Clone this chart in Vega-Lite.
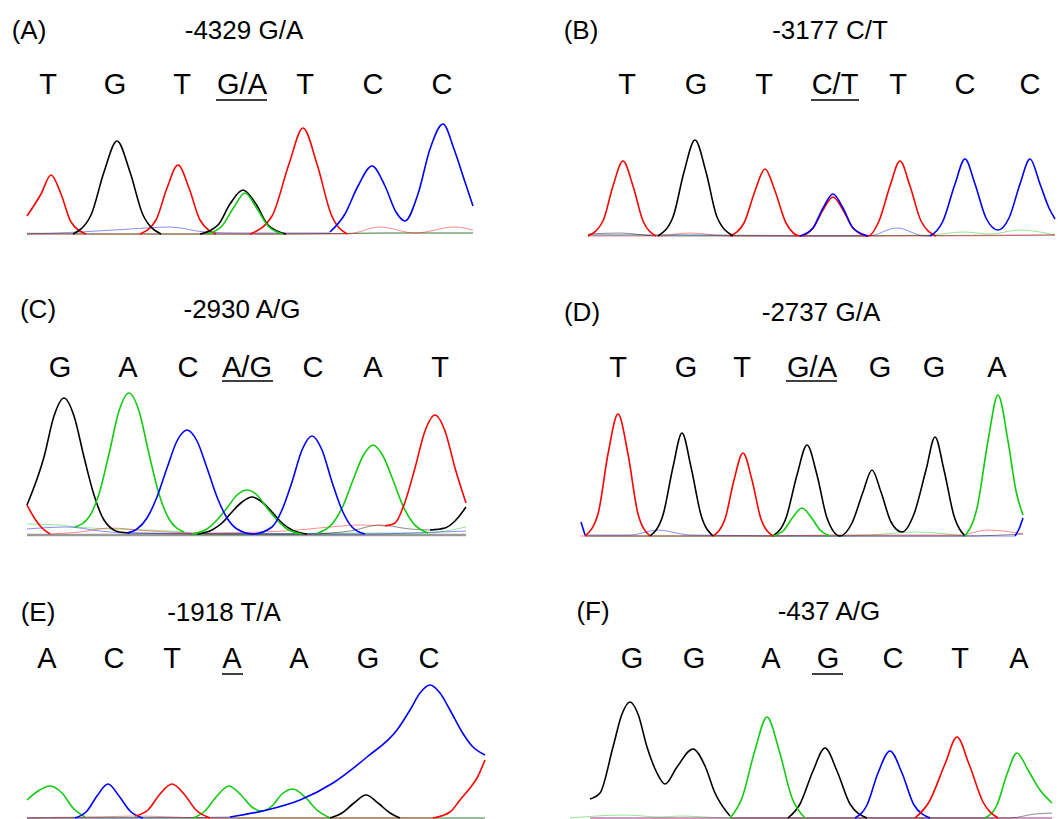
{
"$schema": "https://vega.github.io/schema/vega-lite/v6.json",
"padding": 0,
"spacing": 0,
"background": "white",
"config": {"view": {"stroke": null}, "concat": {"spacing": 0}, "axis": {"disable": true}, "scale": {"zero": false}, "text": {"font": "Liberation Sans", "color": "#000000"}},
"datasets": {
"tr": [
{"p":"A","c":"T","g":1,"s":27,"v":18},{"p":"A","c":"T","g":1,"s":41,"v":40},{"p":"A","c":"T","g":1,"s":51,"v":59},{"p":"A","c":"T","g":1,"s":61,"v":40},{"p":"A","c":"T","g":1,"s":71,"v":12},{"p":"A","c":"T","g":1,"s":86,"v":0},
{"p":"A","c":"T","g":2,"s":140,"v":0},{"p":"A","c":"T","g":2,"s":156,"v":14},{"p":"A","c":"T","g":2,"s":167,"v":46},{"p":"A","c":"T","g":2,"s":178,"v":69},{"p":"A","c":"T","g":2,"s":189,"v":46},{"p":"A","c":"T","g":2,"s":200,"v":14},{"p":"A","c":"T","g":2,"s":216,"v":0},
{"p":"A","c":"T","g":3,"s":250,"v":0},{"p":"A","c":"T","g":3,"s":272,"v":18},{"p":"A","c":"T","g":3,"s":289,"v":70},{"p":"A","c":"T","g":3,"s":303,"v":106},{"p":"A","c":"T","g":3,"s":317,"v":70},{"p":"A","c":"T","g":3,"s":331,"v":20},{"p":"A","c":"T","g":3,"s":347,"v":0},
{"p":"A","c":"G","g":1,"s":73,"v":0},{"p":"A","c":"G","g":1,"s":91,"v":19},{"p":"A","c":"G","g":1,"s":104,"v":62},{"p":"A","c":"G","g":1,"s":117,"v":93},{"p":"A","c":"G","g":1,"s":130,"v":62},{"p":"A","c":"G","g":1,"s":143,"v":19},{"p":"A","c":"G","g":1,"s":161,"v":0},
{"p":"A","c":"G","g":2,"s":200,"v":0},{"p":"A","c":"G","g":2,"s":218,"v":9},{"p":"A","c":"G","g":2,"s":230,"v":30},{"p":"A","c":"G","g":2,"s":243,"v":44},{"p":"A","c":"G","g":2,"s":256,"v":30},{"p":"A","c":"G","g":2,"s":268,"v":9},{"p":"A","c":"G","g":2,"s":286,"v":0},
{"p":"A","c":"A","g":1,"s":207,"v":0},{"p":"A","c":"A","g":1,"s":222,"v":8},{"p":"A","c":"A","g":1,"s":234,"v":27},{"p":"A","c":"A","g":1,"s":245,"v":41},{"p":"A","c":"A","g":1,"s":256,"v":27},{"p":"A","c":"A","g":1,"s":268,"v":8},{"p":"A","c":"A","g":1,"s":283,"v":0},
{"p":"A","c":"C","g":1,"s":330,"v":2},{"p":"A","c":"C","g":1,"s":345,"v":20},{"p":"A","c":"C","g":1,"s":358,"v":48},{"p":"A","c":"C","g":1,"s":372,"v":68},{"p":"A","c":"C","g":1,"s":385,"v":48},{"p":"A","c":"C","g":1,"s":396,"v":22},{"p":"A","c":"C","g":1,"s":405,"v":13},{"p":"A","c":"C","g":1,"s":418,"v":40},{"p":"A","c":"C","g":1,"s":430,"v":85},{"p":"A","c":"C","g":1,"s":443,"v":110},{"p":"A","c":"C","g":1,"s":454,"v":85},{"p":"A","c":"C","g":1,"s":464,"v":55},{"p":"A","c":"C","g":1,"s":473,"v":28},

{"p":"B","c":"T","g":1,"s":58,"v":0},{"p":"B","c":"T","g":1,"s":73,"v":15},{"p":"B","c":"T","g":1,"s":83,"v":50},{"p":"B","c":"T","g":1,"s":93,"v":75},{"p":"B","c":"T","g":1,"s":103,"v":50},{"p":"B","c":"T","g":1,"s":113,"v":15},{"p":"B","c":"T","g":1,"s":126,"v":0},
{"p":"B","c":"T","g":2,"s":200,"v":0},{"p":"B","c":"T","g":2,"s":214,"v":13},{"p":"B","c":"T","g":2,"s":225,"v":45},{"p":"B","c":"T","g":2,"s":235,"v":67},{"p":"B","c":"T","g":2,"s":245,"v":45},{"p":"B","c":"T","g":2,"s":256,"v":13},{"p":"B","c":"T","g":2,"s":270,"v":0},{"p":"B","c":"T","g":2,"s":283,"v":8},{"p":"B","c":"T","g":2,"s":293,"v":26},{"p":"B","c":"T","g":2,"s":303,"v":39},{"p":"B","c":"T","g":2,"s":313,"v":26},{"p":"B","c":"T","g":2,"s":323,"v":8},{"p":"B","c":"T","g":2,"s":338,"v":0},{"p":"B","c":"T","g":2,"s":349,"v":15},{"p":"B","c":"T","g":2,"s":360,"v":50},{"p":"B","c":"T","g":2,"s":370,"v":75},{"p":"B","c":"T","g":2,"s":380,"v":50},{"p":"B","c":"T","g":2,"s":391,"v":15},{"p":"B","c":"T","g":2,"s":406,"v":0},
{"p":"B","c":"G","g":1,"s":128,"v":0},{"p":"B","c":"G","g":1,"s":143,"v":19},{"p":"B","c":"G","g":1,"s":154,"v":64},{"p":"B","c":"G","g":1,"s":165,"v":96},{"p":"B","c":"G","g":1,"s":176,"v":64},{"p":"B","c":"G","g":1,"s":187,"v":19},{"p":"B","c":"G","g":1,"s":203,"v":0},
{"p":"B","c":"C","g":1,"s":270,"v":0},{"p":"B","c":"C","g":1,"s":283,"v":8},{"p":"B","c":"C","g":1,"s":293,"v":28},{"p":"B","c":"C","g":1,"s":303,"v":42},{"p":"B","c":"C","g":1,"s":313,"v":28},{"p":"B","c":"C","g":1,"s":323,"v":8},{"p":"B","c":"C","g":1,"s":338,"v":0},
{"p":"B","c":"C","g":2,"s":400,"v":0},{"p":"B","c":"C","g":2,"s":413,"v":15},{"p":"B","c":"C","g":2,"s":425,"v":52},{"p":"B","c":"C","g":2,"s":435,"v":77},{"p":"B","c":"C","g":2,"s":445,"v":52},{"p":"B","c":"C","g":2,"s":456,"v":18},{"p":"B","c":"C","g":2,"s":468,"v":6},{"p":"B","c":"C","g":2,"s":479,"v":18},{"p":"B","c":"C","g":2,"s":490,"v":52},{"p":"B","c":"C","g":2,"s":500,"v":77},{"p":"B","c":"C","g":2,"s":510,"v":52},{"p":"B","c":"C","g":2,"s":519,"v":28},{"p":"B","c":"C","g":2,"s":525,"v":17},

{"p":"C","c":"G","g":1,"s":27,"v":30},{"p":"C","c":"G","g":1,"s":44,"v":78},{"p":"C","c":"G","g":1,"s":54,"v":119},{"p":"C","c":"G","g":1,"s":64,"v":137},{"p":"C","c":"G","g":1,"s":74,"v":119},{"p":"C","c":"G","g":1,"s":84,"v":78},{"p":"C","c":"G","g":1,"s":94,"v":40},{"p":"C","c":"G","g":1,"s":104,"v":15},{"p":"C","c":"G","g":1,"s":119,"v":3},{"p":"C","c":"G","g":1,"s":130,"v":2},
{"p":"C","c":"G","g":2,"s":197,"v":1},{"p":"C","c":"G","g":2,"s":212,"v":5},{"p":"C","c":"G","g":2,"s":222,"v":12},{"p":"C","c":"G","g":2,"s":232,"v":23},{"p":"C","c":"G","g":2,"s":242,"v":33},{"p":"C","c":"G","g":2,"s":252,"v":38},{"p":"C","c":"G","g":2,"s":262,"v":33},{"p":"C","c":"G","g":2,"s":272,"v":23},{"p":"C","c":"G","g":2,"s":282,"v":12},{"p":"C","c":"G","g":2,"s":292,"v":5},{"p":"C","c":"G","g":2,"s":307,"v":1},
{"p":"C","c":"G","g":3,"s":430,"v":5},{"p":"C","c":"G","g":3,"s":445,"v":7},{"p":"C","c":"G","g":3,"s":455,"v":14},{"p":"C","c":"G","g":3,"s":466,"v":28},
{"p":"C","c":"A","g":1,"s":75,"v":8},{"p":"C","c":"A","g":1,"s":89,"v":18},{"p":"C","c":"A","g":1,"s":99,"v":41},{"p":"C","c":"A","g":1,"s":109,"v":81},{"p":"C","c":"A","g":1,"s":119,"v":124},{"p":"C","c":"A","g":1,"s":129,"v":142},{"p":"C","c":"A","g":1,"s":139,"v":124},{"p":"C","c":"A","g":1,"s":149,"v":81},{"p":"C","c":"A","g":1,"s":159,"v":41},{"p":"C","c":"A","g":1,"s":169,"v":16},{"p":"C","c":"A","g":1,"s":184,"v":3},
{"p":"C","c":"A","g":2,"s":192,"v":1},{"p":"C","c":"A","g":2,"s":207,"v":6},{"p":"C","c":"A","g":2,"s":217,"v":15},{"p":"C","c":"A","g":2,"s":227,"v":27},{"p":"C","c":"A","g":2,"s":237,"v":40},{"p":"C","c":"A","g":2,"s":247,"v":45},{"p":"C","c":"A","g":2,"s":257,"v":40},{"p":"C","c":"A","g":2,"s":267,"v":27},{"p":"C","c":"A","g":2,"s":277,"v":15},{"p":"C","c":"A","g":2,"s":287,"v":6},{"p":"C","c":"A","g":2,"s":302,"v":1},
{"p":"C","c":"A","g":3,"s":318,"v":2},{"p":"C","c":"A","g":3,"s":333,"v":12},{"p":"C","c":"A","g":3,"s":343,"v":29},{"p":"C","c":"A","g":3,"s":353,"v":55},{"p":"C","c":"A","g":3,"s":363,"v":79},{"p":"C","c":"A","g":3,"s":373,"v":90},{"p":"C","c":"A","g":3,"s":383,"v":79},{"p":"C","c":"A","g":3,"s":393,"v":55},{"p":"C","c":"A","g":3,"s":403,"v":29},{"p":"C","c":"A","g":3,"s":413,"v":12},{"p":"C","c":"A","g":3,"s":428,"v":2},
{"p":"C","c":"C","g":1,"s":127,"v":2},{"p":"C","c":"C","g":1,"s":137,"v":6},{"p":"C","c":"C","g":1,"s":147,"v":17},{"p":"C","c":"C","g":1,"s":157,"v":38},{"p":"C","c":"C","g":1,"s":167,"v":67},{"p":"C","c":"C","g":1,"s":177,"v":94},{"p":"C","c":"C","g":1,"s":187,"v":105},{"p":"C","c":"C","g":1,"s":197,"v":94},{"p":"C","c":"C","g":1,"s":207,"v":67},{"p":"C","c":"C","g":1,"s":217,"v":38},{"p":"C","c":"C","g":1,"s":227,"v":17},{"p":"C","c":"C","g":1,"s":237,"v":6},{"p":"C","c":"C","g":1,"s":253,"v":1},{"p":"C","c":"C","g":1,"s":272,"v":8},{"p":"C","c":"C","g":1,"s":282,"v":25},{"p":"C","c":"C","g":1,"s":292,"v":53},{"p":"C","c":"C","g":1,"s":302,"v":85},{"p":"C","c":"C","g":1,"s":312,"v":99},{"p":"C","c":"C","g":1,"s":322,"v":85},{"p":"C","c":"C","g":1,"s":332,"v":53},{"p":"C","c":"C","g":1,"s":342,"v":25},{"p":"C","c":"C","g":1,"s":352,"v":8},{"p":"C","c":"C","g":1,"s":365,"v":1},
{"p":"C","c":"T","g":1,"s":27,"v":30},{"p":"C","c":"T","g":1,"s":35,"v":16},{"p":"C","c":"T","g":1,"s":42,"v":7},{"p":"C","c":"T","g":1,"s":50,"v":1},
{"p":"C","c":"T","g":2,"s":385,"v":9},{"p":"C","c":"T","g":2,"s":395,"v":12},{"p":"C","c":"T","g":2,"s":405,"v":33},{"p":"C","c":"T","g":2,"s":415,"v":67},{"p":"C","c":"T","g":2,"s":425,"v":104},{"p":"C","c":"T","g":2,"s":435,"v":120},{"p":"C","c":"T","g":2,"s":445,"v":104},{"p":"C","c":"T","g":2,"s":455,"v":67},{"p":"C","c":"T","g":2,"s":466,"v":32},

{"p":"D","c":"T","g":1,"s":55,"v":0},{"p":"D","c":"T","g":1,"s":68,"v":22},{"p":"D","c":"T","g":1,"s":78,"v":82},{"p":"D","c":"T","g":1,"s":88,"v":122},{"p":"D","c":"T","g":1,"s":98,"v":82},{"p":"D","c":"T","g":1,"s":108,"v":22},{"p":"D","c":"T","g":1,"s":120,"v":0},
{"p":"D","c":"T","g":2,"s":183,"v":0},{"p":"D","c":"T","g":2,"s":195,"v":17},{"p":"D","c":"T","g":2,"s":204,"v":56},{"p":"D","c":"T","g":2,"s":213,"v":83},{"p":"D","c":"T","g":2,"s":222,"v":56},{"p":"D","c":"T","g":2,"s":231,"v":17},{"p":"D","c":"T","g":2,"s":243,"v":0},
{"p":"D","c":"G","g":1,"s":120,"v":0},{"p":"D","c":"G","g":1,"s":133,"v":21},{"p":"D","c":"G","g":1,"s":143,"v":69},{"p":"D","c":"G","g":1,"s":152,"v":103},{"p":"D","c":"G","g":1,"s":161,"v":69},{"p":"D","c":"G","g":1,"s":171,"v":21},{"p":"D","c":"G","g":1,"s":183,"v":0},
{"p":"D","c":"G","g":2,"s":243,"v":0},{"p":"D","c":"G","g":2,"s":256,"v":18},{"p":"D","c":"G","g":2,"s":267,"v":61},{"p":"D","c":"G","g":2,"s":277,"v":91},{"p":"D","c":"G","g":2,"s":287,"v":61},{"p":"D","c":"G","g":2,"s":297,"v":18},{"p":"D","c":"G","g":2,"s":310,"v":0},{"p":"D","c":"G","g":2,"s":322,"v":13},{"p":"D","c":"G","g":2,"s":333,"v":44},{"p":"D","c":"G","g":2,"s":342,"v":66},{"p":"D","c":"G","g":2,"s":351,"v":44},{"p":"D","c":"G","g":2,"s":361,"v":14},{"p":"D","c":"G","g":2,"s":372,"v":4},{"p":"D","c":"G","g":2,"s":384,"v":22},{"p":"D","c":"G","g":2,"s":396,"v":66},{"p":"D","c":"G","g":2,"s":405,"v":99},{"p":"D","c":"G","g":2,"s":414,"v":66},{"p":"D","c":"G","g":2,"s":424,"v":20},{"p":"D","c":"G","g":2,"s":435,"v":0},
{"p":"D","c":"A","g":1,"s":243,"v":0},{"p":"D","c":"A","g":1,"s":254,"v":6},{"p":"D","c":"A","g":1,"s":263,"v":19},{"p":"D","c":"A","g":1,"s":272,"v":28},{"p":"D","c":"A","g":1,"s":281,"v":19},{"p":"D","c":"A","g":1,"s":290,"v":6},{"p":"D","c":"A","g":1,"s":300,"v":0},
{"p":"D","c":"A","g":2,"s":435,"v":0},{"p":"D","c":"A","g":2,"s":447,"v":28},{"p":"D","c":"A","g":2,"s":458,"v":95},{"p":"D","c":"A","g":2,"s":468,"v":141},{"p":"D","c":"A","g":2,"s":478,"v":95},{"p":"D","c":"A","g":2,"s":486,"v":45},{"p":"D","c":"A","g":2,"s":493,"v":21},
{"p":"D","c":"C","g":1,"s":51,"v":14},{"p":"D","c":"C","g":1,"s":55,"v":1},
{"p":"D","c":"C","g":2,"s":485,"v":0},{"p":"D","c":"C","g":2,"s":489,"v":7},{"p":"D","c":"C","g":2,"s":493,"v":18},

{"p":"E","c":"A","g":1,"s":27,"v":18},{"p":"E","c":"A","g":1,"s":38,"v":27},{"p":"E","c":"A","g":1,"s":50,"v":32},{"p":"E","c":"A","g":1,"s":62,"v":25},{"p":"E","c":"A","g":1,"s":73,"v":10},{"p":"E","c":"A","g":1,"s":85,"v":1},
{"p":"E","c":"A","g":2,"s":193,"v":0},{"p":"E","c":"A","g":2,"s":205,"v":7},{"p":"E","c":"A","g":2,"s":217,"v":22},{"p":"E","c":"A","g":2,"s":229,"v":32},{"p":"E","c":"A","g":2,"s":241,"v":23},{"p":"E","c":"A","g":2,"s":252,"v":11},{"p":"E","c":"A","g":2,"s":262,"v":7},{"p":"E","c":"A","g":2,"s":272,"v":12},{"p":"E","c":"A","g":2,"s":282,"v":24},{"p":"E","c":"A","g":2,"s":293,"v":29},{"p":"E","c":"A","g":2,"s":305,"v":21},{"p":"E","c":"A","g":2,"s":317,"v":8},{"p":"E","c":"A","g":2,"s":330,"v":0},
{"p":"E","c":"C","g":1,"s":75,"v":0},{"p":"E","c":"C","g":1,"s":87,"v":7},{"p":"E","c":"C","g":1,"s":97,"v":22},{"p":"E","c":"C","g":1,"s":108,"v":34},{"p":"E","c":"C","g":1,"s":119,"v":22},{"p":"E","c":"C","g":1,"s":130,"v":7},{"p":"E","c":"C","g":1,"s":143,"v":0},
{"p":"E","c":"C","g":2,"s":230,"v":1},{"p":"E","c":"C","g":2,"s":267,"v":8},{"p":"E","c":"C","g":2,"s":300,"v":18},{"p":"E","c":"C","g":2,"s":333,"v":35},{"p":"E","c":"C","g":2,"s":367,"v":61},{"p":"E","c":"C","g":2,"s":397,"v":88},{"p":"E","c":"C","g":2,"s":410,"v":108},{"p":"E","c":"C","g":2,"s":420,"v":125},{"p":"E","c":"C","g":2,"s":430,"v":133},{"p":"E","c":"C","g":2,"s":440,"v":125},{"p":"E","c":"C","g":2,"s":450,"v":108},{"p":"E","c":"C","g":2,"s":462,"v":86},{"p":"E","c":"C","g":2,"s":472,"v":72},{"p":"E","c":"C","g":2,"s":485,"v":63},
{"p":"E","c":"T","g":1,"s":135,"v":2},{"p":"E","c":"T","g":1,"s":148,"v":8},{"p":"E","c":"T","g":1,"s":160,"v":24},{"p":"E","c":"T","g":1,"s":172,"v":34},{"p":"E","c":"T","g":1,"s":184,"v":24},{"p":"E","c":"T","g":1,"s":196,"v":8},{"p":"E","c":"T","g":1,"s":210,"v":0},
{"p":"E","c":"T","g":2,"s":433,"v":0},{"p":"E","c":"T","g":2,"s":450,"v":6},{"p":"E","c":"T","g":2,"s":460,"v":18},{"p":"E","c":"T","g":2,"s":470,"v":30},{"p":"E","c":"T","g":2,"s":477,"v":40},{"p":"E","c":"T","g":2,"s":485,"v":58},
{"p":"E","c":"G","g":1,"s":330,"v":0},{"p":"E","c":"G","g":1,"s":342,"v":5},{"p":"E","c":"G","g":1,"s":354,"v":15},{"p":"E","c":"G","g":1,"s":366,"v":23},{"p":"E","c":"G","g":1,"s":378,"v":15},{"p":"E","c":"G","g":1,"s":390,"v":5},{"p":"E","c":"G","g":1,"s":400,"v":0},

{"p":"F","c":"G","g":1,"s":60,"v":19},{"p":"F","c":"G","g":1,"s":70,"v":25},{"p":"F","c":"G","g":1,"s":83,"v":71},{"p":"F","c":"G","g":1,"s":92,"v":104},{"p":"F","c":"G","g":1,"s":100,"v":116},{"p":"F","c":"G","g":1,"s":108,"v":104},{"p":"F","c":"G","g":1,"s":117,"v":71},{"p":"F","c":"G","g":1,"s":127,"v":45},{"p":"F","c":"G","g":1,"s":135,"v":34},{"p":"F","c":"G","g":1,"s":147,"v":51},{"p":"F","c":"G","g":1,"s":163,"v":69},{"p":"F","c":"G","g":1,"s":175,"v":52},{"p":"F","c":"G","g":1,"s":185,"v":25},{"p":"F","c":"G","g":1,"s":200,"v":2},
{"p":"F","c":"G","g":2,"s":258,"v":0},{"p":"F","c":"G","g":2,"s":270,"v":14},{"p":"F","c":"G","g":2,"s":283,"v":47},{"p":"F","c":"G","g":2,"s":295,"v":70},{"p":"F","c":"G","g":2,"s":307,"v":47},{"p":"F","c":"G","g":2,"s":320,"v":14},{"p":"F","c":"G","g":2,"s":337,"v":0},
{"p":"F","c":"A","g":1,"s":200,"v":0},{"p":"F","c":"A","g":1,"s":212,"v":20},{"p":"F","c":"A","g":1,"s":225,"v":68},{"p":"F","c":"A","g":1,"s":237,"v":101},{"p":"F","c":"A","g":1,"s":249,"v":68},{"p":"F","c":"A","g":1,"s":262,"v":20},{"p":"F","c":"A","g":1,"s":275,"v":0},
{"p":"F","c":"A","g":2,"s":455,"v":0},{"p":"F","c":"A","g":2,"s":467,"v":13},{"p":"F","c":"A","g":2,"s":477,"v":44},{"p":"F","c":"A","g":2,"s":487,"v":65},{"p":"F","c":"A","g":2,"s":498,"v":48},{"p":"F","c":"A","g":2,"s":510,"v":28},{"p":"F","c":"A","g":2,"s":522,"v":15},
{"p":"F","c":"C","g":1,"s":325,"v":0},{"p":"F","c":"C","g":1,"s":337,"v":13},{"p":"F","c":"C","g":1,"s":348,"v":45},{"p":"F","c":"C","g":1,"s":360,"v":67},{"p":"F","c":"C","g":1,"s":372,"v":45},{"p":"F","c":"C","g":1,"s":384,"v":13},{"p":"F","c":"C","g":1,"s":400,"v":0},
{"p":"F","c":"T","g":1,"s":385,"v":0},{"p":"F","c":"T","g":1,"s":399,"v":16},{"p":"F","c":"T","g":1,"s":415,"v":54},{"p":"F","c":"T","g":1,"s":427,"v":81},{"p":"F","c":"T","g":1,"s":439,"v":54},{"p":"F","c":"T","g":1,"s":453,"v":16},{"p":"F","c":"T","g":1,"s":468,"v":0}
],
"nz": [
{"p":"A","c":"A","s":27,"v":1},{"p":"A","c":"A","s":120,"v":0},{"p":"A","c":"A","s":207,"v":0},{"p":"A","c":"A","s":283,"v":0},{"p":"A","c":"A","s":380,"v":1},{"p":"A","c":"A","s":473,"v":1},
{"p":"A","c":"C","s":27,"v":0},{"p":"A","c":"C","s":80,"v":2},{"p":"A","c":"C","s":130,"v":5},{"p":"A","c":"C","s":170,"v":7},{"p":"A","c":"C","s":205,"v":2},{"p":"A","c":"C","s":240,"v":1},{"p":"A","c":"C","s":330,"v":1},
{"p":"A","c":"G","s":27,"v":0},{"p":"A","c":"G","s":73,"v":0},{"p":"A","c":"G","s":161,"v":0},{"p":"A","c":"G","s":200,"v":0},{"p":"A","c":"G","s":286,"v":0},{"p":"A","c":"G","s":390,"v":1},{"p":"A","c":"G","s":473,"v":1},
{"p":"A","c":"T","s":27,"v":0},{"p":"A","c":"T","s":86,"v":0},{"p":"A","c":"T","s":140,"v":0},{"p":"A","c":"T","s":216,"v":0},{"p":"A","c":"T","s":250,"v":0},{"p":"A","c":"T","s":347,"v":0},{"p":"A","c":"T","s":380,"v":7},{"p":"A","c":"T","s":415,"v":1},{"p":"A","c":"T","s":455,"v":7},{"p":"A","c":"T","s":473,"v":4},

{"p":"B","c":"A","s":58,"v":1},{"p":"B","c":"A","s":200,"v":1},{"p":"B","c":"A","s":300,"v":0},{"p":"B","c":"A","s":400,"v":1},{"p":"B","c":"A","s":433,"v":4},{"p":"B","c":"A","s":460,"v":2},{"p":"B","c":"A","s":490,"v":6},{"p":"B","c":"A","s":525,"v":1},
{"p":"B","c":"C","s":58,"v":1},{"p":"B","c":"C","s":150,"v":1},{"p":"B","c":"C","s":270,"v":0},{"p":"B","c":"C","s":338,"v":0},{"p":"B","c":"C","s":367,"v":8},{"p":"B","c":"C","s":395,"v":0},{"p":"B","c":"C","s":400,"v":0},
{"p":"B","c":"G","s":58,"v":2},{"p":"B","c":"G","s":90,"v":3},{"p":"B","c":"G","s":128,"v":0},{"p":"B","c":"G","s":203,"v":0},{"p":"B","c":"G","s":525,"v":1},
{"p":"B","c":"T","s":58,"v":0},{"p":"B","c":"T","s":126,"v":0},{"p":"B","c":"T","s":160,"v":3},{"p":"B","c":"T","s":200,"v":0},{"p":"B","c":"T","s":406,"v":0},{"p":"B","c":"T","s":525,"v":1},

{"p":"C","c":"A","s":27,"v":11},{"p":"C","c":"A","s":60,"v":10},{"p":"C","c":"A","s":75,"v":8},{"p":"C","c":"A","s":184,"v":3},{"p":"C","c":"A","s":192,"v":1},{"p":"C","c":"A","s":302,"v":1},{"p":"C","c":"A","s":318,"v":2},{"p":"C","c":"A","s":428,"v":2},{"p":"C","c":"A","s":445,"v":4},{"p":"C","c":"A","s":466,"v":8},
{"p":"C","c":"C","s":27,"v":6},{"p":"C","c":"C","s":67,"v":8},{"p":"C","c":"C","s":100,"v":4},{"p":"C","c":"C","s":127,"v":2},{"p":"C","c":"C","s":365,"v":1},{"p":"C","c":"C","s":440,"v":3},{"p":"C","c":"C","s":466,"v":4},
{"p":"C","c":"G","s":130,"v":2},{"p":"C","c":"G","s":197,"v":1},{"p":"C","c":"G","s":307,"v":1},{"p":"C","c":"G","s":350,"v":4},{"p":"C","c":"G","s":380,"v":10},{"p":"C","c":"G","s":410,"v":6},{"p":"C","c":"G","s":430,"v":5},
{"p":"C","c":"T","s":50,"v":1},{"p":"C","c":"T","s":80,"v":3},{"p":"C","c":"T","s":110,"v":7},{"p":"C","c":"T","s":150,"v":4},{"p":"C","c":"T","s":200,"v":2},{"p":"C","c":"T","s":285,"v":4},{"p":"C","c":"T","s":330,"v":8},{"p":"C","c":"T","s":360,"v":10},{"p":"C","c":"T","s":385,"v":9},

{"p":"D","c":"A","s":55,"v":0},{"p":"D","c":"A","s":243,"v":0},{"p":"D","c":"A","s":300,"v":0},{"p":"D","c":"A","s":340,"v":1},{"p":"D","c":"A","s":385,"v":4},{"p":"D","c":"A","s":435,"v":0},
{"p":"D","c":"C","s":55,"v":1},{"p":"D","c":"C","s":100,"v":1},{"p":"D","c":"C","s":128,"v":6},{"p":"D","c":"C","s":160,"v":1},{"p":"D","c":"C","s":300,"v":0},{"p":"D","c":"C","s":485,"v":0},
{"p":"D","c":"G","s":55,"v":0},{"p":"D","c":"G","s":120,"v":0},{"p":"D","c":"G","s":183,"v":0},{"p":"D","c":"G","s":243,"v":0},{"p":"D","c":"G","s":435,"v":0},{"p":"D","c":"G","s":493,"v":2},
{"p":"D","c":"T","s":50,"v":0},{"p":"D","c":"T","s":120,"v":0},{"p":"D","c":"T","s":183,"v":0},{"p":"D","c":"T","s":243,"v":0},{"p":"D","c":"T","s":300,"v":1},{"p":"D","c":"T","s":430,"v":1},{"p":"D","c":"T","s":458,"v":6},{"p":"D","c":"T","s":493,"v":2},

{"p":"E","c":"A","s":27,"v":0},{"p":"E","c":"A","s":85,"v":1},{"p":"E","c":"A","s":193,"v":0},{"p":"E","c":"A","s":330,"v":0},{"p":"E","c":"A","s":485,"v":0},
{"p":"E","c":"C","s":27,"v":0},{"p":"E","c":"C","s":75,"v":0},{"p":"E","c":"C","s":143,"v":0},{"p":"E","c":"C","s":230,"v":1},
{"p":"E","c":"G","s":27,"v":0},{"p":"E","c":"G","s":150,"v":0},{"p":"E","c":"G","s":230,"v":0},{"p":"E","c":"G","s":330,"v":0},{"p":"E","c":"G","s":400,"v":0},{"p":"E","c":"G","s":485,"v":0},
{"p":"E","c":"T","s":27,"v":0},{"p":"E","c":"T","s":100,"v":1},{"p":"E","c":"T","s":135,"v":2},{"p":"E","c":"T","s":210,"v":0},{"p":"E","c":"T","s":433,"v":0},

{"p":"F","c":"A","s":40,"v":0},{"p":"F","c":"A","s":95,"v":3},{"p":"F","c":"A","s":130,"v":1},{"p":"F","c":"A","s":150,"v":2},{"p":"F","c":"A","s":200,"v":0},{"p":"F","c":"A","s":275,"v":0},{"p":"F","c":"A","s":455,"v":0},
{"p":"F","c":"C","s":60,"v":0},{"p":"F","c":"C","s":325,"v":0},{"p":"F","c":"C","s":400,"v":0},{"p":"F","c":"C","s":522,"v":0},
{"p":"F","c":"G","s":200,"v":0},{"p":"F","c":"G","s":258,"v":0},{"p":"F","c":"G","s":337,"v":0},{"p":"F","c":"G","s":480,"v":0},{"p":"F","c":"G","s":505,"v":4},{"p":"F","c":"G","s":522,"v":5},
{"p":"F","c":"T","s":60,"v":0},{"p":"F","c":"T","s":385,"v":0},{"p":"F","c":"T","s":468,"v":0},{"p":"F","c":"T","s":522,"v":0}
],
"calls": [
{"p":"A","s":48,"b":"T"},{"p":"A","s":115,"b":"G"},{"p":"A","s":182,"b":"T"},{"p":"A","s":242,"b":"G/A"},{"p":"A","s":305,"b":"T"},{"p":"A","s":373,"b":"C"},{"p":"A","s":442,"b":"C"},
{"p":"B","s":97,"b":"T"},{"p":"B","s":166,"b":"G"},{"p":"B","s":234,"b":"T"},{"p":"B","s":305,"b":"C/T"},{"p":"B","s":368,"b":"T"},{"p":"B","s":435,"b":"C"},{"p":"B","s":500,"b":"C"},
{"p":"C","s":60,"b":"G"},{"p":"C","s":128,"b":"A"},{"p":"C","s":188,"b":"C"},{"p":"C","s":247,"b":"A/G"},{"p":"C","s":313,"b":"C"},{"p":"C","s":373,"b":"A"},{"p":"C","s":440,"b":"T"},
{"p":"D","s":88,"b":"T"},{"p":"D","s":156,"b":"G"},{"p":"D","s":212,"b":"T"},{"p":"D","s":282,"b":"G/A"},{"p":"D","s":350,"b":"G"},{"p":"D","s":404,"b":"G"},{"p":"D","s":467,"b":"A"},
{"p":"E","s":47,"b":"A"},{"p":"E","s":114,"b":"C"},{"p":"E","s":172,"b":"T"},{"p":"E","s":232,"b":"A"},{"p":"E","s":299,"b":"A"},{"p":"E","s":368,"b":"G"},{"p":"E","s":429,"b":"C"},
{"p":"F","s":102,"b":"G"},{"p":"F","s":164,"b":"G"},{"p":"F","s":241,"b":"A"},{"p":"F","s":298,"b":"G"},{"p":"F","s":363,"b":"C"},{"p":"F","s":430,"b":"T"},{"p":"F","s":489,"b":"A"}
]
},
"vconcat": [
{"hconcat": [
{"width": 530, "height": 270, "layer": [
{"data": {"name": "nz"}, "transform": [{"filter": "datum.p === 'A'"}], "mark": {"type": "line", "interpolate": "monotone", "strokeWidth": 1, "opacity": 0.45},
 "encoding": {"x": {"field": "s", "type": "quantitative", "scale": {"domain": [0, 530], "nice": false}, "axis": null}, "y": {"field": "v", "type": "quantitative", "scale": {"domain": [-36, 234], "nice": false}, "axis": null}, "color": {"field": "c", "type": "nominal", "scale": {"domain": ["A", "C", "G", "T"], "range": ["#10cc10", "#0000ff", "#000000", "#ff0000"]}, "legend": null}}},
{"data": {"name": "tr"}, "transform": [{"filter": "datum.p === 'A'"}], "mark": {"type": "line", "interpolate": "monotone", "strokeWidth": 1.6},
 "encoding": {"x": {"field": "s", "type": "quantitative", "scale": {"domain": [0, 530], "nice": false}, "axis": null}, "y": {"field": "v", "type": "quantitative", "scale": {"domain": [-36, 234], "nice": false}, "axis": null}, "color": {"field": "c", "type": "nominal", "scale": {"domain": ["A", "C", "G", "T"], "range": ["#10cc10", "#0000ff", "#000000", "#ff0000"]}, "legend": null}, "detail": {"field": "g", "type": "nominal"}}},
{"data": {"name": "calls"}, "transform": [{"filter": "datum.p === 'A'"}], "mark": {"type": "text", "fontSize": 29, "align": "center", "baseline": "alphabetic"},
 "encoding": {"x": {"field": "s", "type": "quantitative", "scale": {"domain": [0, 530], "nice": false}, "axis": null}, "y": {"datum": 140, "type": "quantitative", "scale": {"domain": [-36, 234], "nice": false}}, "text": {"field": "b"}}},
{"data": {"values": [{}]}, "mark": {"type": "rule", "strokeWidth": 1.5, "color": "#000000"}, "encoding": {"x": {"datum": 216, "type": "quantitative"}, "x2": {"datum": 267}, "y": {"datum": 134, "type": "quantitative"}}},
{"data": {"values": [{}]}, "mark": {"type": "text", "fontSize": 26, "align": "center", "baseline": "alphabetic"}, "encoding": {"x": {"datum": 29, "type": "quantitative"}, "y": {"datum": 195, "type": "quantitative"}, "text": {"value": "(A)"}}},
{"data": {"values": [{}]}, "mark": {"type": "text", "fontSize": 26, "align": "center", "baseline": "alphabetic"}, "encoding": {"x": {"datum": 244, "type": "quantitative"}, "y": {"datum": 195, "type": "quantitative"}, "text": {"value": "-4329 G/A"}}}
]},
{"width": 530, "height": 270, "layer": [
{"data": {"name": "nz"}, "transform": [{"filter": "datum.p === 'B'"}], "mark": {"type": "line", "interpolate": "monotone", "strokeWidth": 1, "opacity": 0.45},
 "encoding": {"x": {"field": "s", "type": "quantitative", "scale": {"domain": [0, 530], "nice": false}, "axis": null}, "y": {"field": "v", "type": "quantitative", "scale": {"domain": [-34, 236], "nice": false}, "axis": null}, "color": {"field": "c", "type": "nominal", "scale": {"domain": ["A", "C", "G", "T"], "range": ["#10cc10", "#0000ff", "#000000", "#ff0000"]}, "legend": null}}},
{"data": {"name": "tr"}, "transform": [{"filter": "datum.p === 'B'"}], "mark": {"type": "line", "interpolate": "monotone", "strokeWidth": 1.6},
 "encoding": {"x": {"field": "s", "type": "quantitative", "scale": {"domain": [0, 530], "nice": false}, "axis": null}, "y": {"field": "v", "type": "quantitative", "scale": {"domain": [-34, 236], "nice": false}, "axis": null}, "color": {"field": "c", "type": "nominal", "scale": {"domain": ["A", "C", "G", "T"], "range": ["#10cc10", "#0000ff", "#000000", "#ff0000"]}, "legend": null}, "detail": {"field": "g", "type": "nominal"}}},
{"data": {"name": "calls"}, "transform": [{"filter": "datum.p === 'B'"}], "mark": {"type": "text", "fontSize": 29, "align": "center", "baseline": "alphabetic"},
 "encoding": {"x": {"field": "s", "type": "quantitative", "scale": {"domain": [0, 530], "nice": false}, "axis": null}, "y": {"datum": 142, "type": "quantitative", "scale": {"domain": [-34, 236], "nice": false}}, "text": {"field": "b"}}},
{"data": {"values": [{}]}, "mark": {"type": "rule", "strokeWidth": 1.5, "color": "#000000"}, "encoding": {"x": {"datum": 281, "type": "quantitative"}, "x2": {"datum": 329}, "y": {"datum": 136, "type": "quantitative"}}},
{"data": {"values": [{}]}, "mark": {"type": "text", "fontSize": 26, "align": "center", "baseline": "alphabetic"}, "encoding": {"x": {"datum": 51, "type": "quantitative"}, "y": {"datum": 197, "type": "quantitative"}, "text": {"value": "(B)"}}},
{"data": {"values": [{}]}, "mark": {"type": "text", "fontSize": 26, "align": "center", "baseline": "alphabetic"}, "encoding": {"x": {"datum": 300, "type": "quantitative"}, "y": {"datum": 197, "type": "quantitative"}, "text": {"value": "-3177 C/T"}}}
]}
], "spacing": 0},
{"hconcat": [
{"width": 530, "height": 290, "layer": [
{"data": {"values": [{}]}, "mark": {"type": "rule", "strokeWidth": 2.5, "color": "#9a9a9a"}, "encoding": {"x": {"datum": 27, "type": "quantitative", "scale": {"domain": [0, 530], "nice": false}}, "x2": {"datum": 466}, "y": {"datum": 0, "type": "quantitative", "scale": {"domain": [-25, 265], "nice": false}}}},
{"data": {"name": "nz"}, "transform": [{"filter": "datum.p === 'C'"}], "mark": {"type": "line", "interpolate": "monotone", "strokeWidth": 1, "opacity": 0.45},
 "encoding": {"x": {"field": "s", "type": "quantitative", "scale": {"domain": [0, 530], "nice": false}, "axis": null}, "y": {"field": "v", "type": "quantitative", "scale": {"domain": [-25, 265], "nice": false}, "axis": null}, "color": {"field": "c", "type": "nominal", "scale": {"domain": ["A", "C", "G", "T"], "range": ["#10cc10", "#0000ff", "#000000", "#ff0000"]}, "legend": null}}},
{"data": {"name": "tr"}, "transform": [{"filter": "datum.p === 'C'"}], "mark": {"type": "line", "interpolate": "monotone", "strokeWidth": 1.6},
 "encoding": {"x": {"field": "s", "type": "quantitative", "scale": {"domain": [0, 530], "nice": false}, "axis": null}, "y": {"field": "v", "type": "quantitative", "scale": {"domain": [-25, 265], "nice": false}, "axis": null}, "color": {"field": "c", "type": "nominal", "scale": {"domain": ["A", "C", "G", "T"], "range": ["#10cc10", "#0000ff", "#000000", "#ff0000"]}, "legend": null}, "detail": {"field": "g", "type": "nominal"}}},
{"data": {"name": "calls"}, "transform": [{"filter": "datum.p === 'C'"}], "mark": {"type": "text", "fontSize": 29, "align": "center", "baseline": "alphabetic"},
 "encoding": {"x": {"field": "s", "type": "quantitative", "scale": {"domain": [0, 530], "nice": false}, "axis": null}, "y": {"datum": 158, "type": "quantitative", "scale": {"domain": [-25, 265], "nice": false}}, "text": {"field": "b"}}},
{"data": {"values": [{}]}, "mark": {"type": "rule", "strokeWidth": 1.5, "color": "#000000"}, "encoding": {"x": {"datum": 222, "type": "quantitative"}, "x2": {"datum": 273}, "y": {"datum": 154, "type": "quantitative"}}},
{"data": {"values": [{}]}, "mark": {"type": "text", "fontSize": 26, "align": "center", "baseline": "alphabetic"}, "encoding": {"x": {"datum": 38, "type": "quantitative"}, "y": {"datum": 217, "type": "quantitative"}, "text": {"value": "(C)"}}},
{"data": {"values": [{}]}, "mark": {"type": "text", "fontSize": 26, "align": "center", "baseline": "alphabetic"}, "encoding": {"x": {"datum": 242, "type": "quantitative"}, "y": {"datum": 217, "type": "quantitative"}, "text": {"value": "-2930 A/G"}}}
]},
{"width": 530, "height": 290, "layer": [
{"data": {"name": "nz"}, "transform": [{"filter": "datum.p === 'D'"}], "mark": {"type": "line", "interpolate": "monotone", "strokeWidth": 1, "opacity": 0.45},
 "encoding": {"x": {"field": "s", "type": "quantitative", "scale": {"domain": [0, 530], "nice": false}, "axis": null}, "y": {"field": "v", "type": "quantitative", "scale": {"domain": [-24, 266], "nice": false}, "axis": null}, "color": {"field": "c", "type": "nominal", "scale": {"domain": ["A", "C", "G", "T"], "range": ["#10cc10", "#0000ff", "#000000", "#ff0000"]}, "legend": null}}},
{"data": {"name": "tr"}, "transform": [{"filter": "datum.p === 'D'"}], "mark": {"type": "line", "interpolate": "monotone", "strokeWidth": 1.6},
 "encoding": {"x": {"field": "s", "type": "quantitative", "scale": {"domain": [0, 530], "nice": false}, "axis": null}, "y": {"field": "v", "type": "quantitative", "scale": {"domain": [-24, 266], "nice": false}, "axis": null}, "color": {"field": "c", "type": "nominal", "scale": {"domain": ["A", "C", "G", "T"], "range": ["#10cc10", "#0000ff", "#000000", "#ff0000"]}, "legend": null}, "detail": {"field": "g", "type": "nominal"}}},
{"data": {"name": "calls"}, "transform": [{"filter": "datum.p === 'D'"}], "mark": {"type": "text", "fontSize": 29, "align": "center", "baseline": "alphabetic"},
 "encoding": {"x": {"field": "s", "type": "quantitative", "scale": {"domain": [0, 530], "nice": false}, "axis": null}, "y": {"datum": 159, "type": "quantitative", "scale": {"domain": [-24, 266], "nice": false}}, "text": {"field": "b"}}},
{"data": {"values": [{}]}, "mark": {"type": "rule", "strokeWidth": 1.5, "color": "#000000"}, "encoding": {"x": {"datum": 256, "type": "quantitative"}, "x2": {"datum": 307}, "y": {"datum": 155, "type": "quantitative"}}},
{"data": {"values": [{}]}, "mark": {"type": "text", "fontSize": 26, "align": "center", "baseline": "alphabetic"}, "encoding": {"x": {"datum": 52, "type": "quantitative"}, "y": {"datum": 215, "type": "quantitative"}, "text": {"value": "(D)"}}},
{"data": {"values": [{}]}, "mark": {"type": "text", "fontSize": 26, "align": "center", "baseline": "alphabetic"}, "encoding": {"x": {"datum": 291, "type": "quantitative"}, "y": {"datum": 215, "type": "quantitative"}, "text": {"value": "-2737 G/A"}}}
]}
], "spacing": 0},
{"hconcat": [
{"width": 530, "height": 259, "layer": [
{"data": {"name": "nz"}, "transform": [{"filter": "datum.p === 'E'"}], "mark": {"type": "line", "interpolate": "monotone", "strokeWidth": 1, "opacity": 0.45},
 "encoding": {"x": {"field": "s", "type": "quantitative", "scale": {"domain": [0, 530], "nice": false}, "axis": null}, "y": {"field": "v", "type": "quantitative", "scale": {"domain": [-1, 258], "nice": false}, "axis": null}, "color": {"field": "c", "type": "nominal", "scale": {"domain": ["A", "C", "G", "T"], "range": ["#10cc10", "#0000ff", "#000000", "#ff0000"]}, "legend": null}}},
{"data": {"name": "tr"}, "transform": [{"filter": "datum.p === 'E'"}], "mark": {"type": "line", "interpolate": "monotone", "strokeWidth": 1.6},
 "encoding": {"x": {"field": "s", "type": "quantitative", "scale": {"domain": [0, 530], "nice": false}, "axis": null}, "y": {"field": "v", "type": "quantitative", "scale": {"domain": [-1, 258], "nice": false}, "axis": null}, "color": {"field": "c", "type": "nominal", "scale": {"domain": ["A", "C", "G", "T"], "range": ["#10cc10", "#0000ff", "#000000", "#ff0000"]}, "legend": null}, "detail": {"field": "g", "type": "nominal"}}},
{"data": {"name": "calls"}, "transform": [{"filter": "datum.p === 'E'"}], "mark": {"type": "text", "fontSize": 29, "align": "center", "baseline": "alphabetic"},
 "encoding": {"x": {"field": "s", "type": "quantitative", "scale": {"domain": [0, 530], "nice": false}, "axis": null}, "y": {"datum": 150, "type": "quantitative", "scale": {"domain": [-1, 258], "nice": false}}, "text": {"field": "b"}}},
{"data": {"values": [{}]}, "mark": {"type": "rule", "strokeWidth": 1.5, "color": "#000000"}, "encoding": {"x": {"datum": 222, "type": "quantitative"}, "x2": {"datum": 243}, "y": {"datum": 144, "type": "quantitative"}}},
{"data": {"values": [{}]}, "mark": {"type": "text", "fontSize": 26, "align": "center", "baseline": "alphabetic"}, "encoding": {"x": {"datum": 38, "type": "quantitative"}, "y": {"datum": 197, "type": "quantitative"}, "text": {"value": "(E)"}}},
{"data": {"values": [{}]}, "mark": {"type": "text", "fontSize": 26, "align": "center", "baseline": "alphabetic"}, "encoding": {"x": {"datum": 224, "type": "quantitative"}, "y": {"datum": 197, "type": "quantitative"}, "text": {"value": "-1918 T/A"}}}
]},
{"width": 530, "height": 259, "layer": [
{"data": {"name": "nz"}, "transform": [{"filter": "datum.p === 'F'"}], "mark": {"type": "line", "interpolate": "monotone", "strokeWidth": 1, "opacity": 0.45},
 "encoding": {"x": {"field": "s", "type": "quantitative", "scale": {"domain": [0, 530], "nice": false}, "axis": null}, "y": {"field": "v", "type": "quantitative", "scale": {"domain": [-1, 258], "nice": false}, "axis": null}, "color": {"field": "c", "type": "nominal", "scale": {"domain": ["A", "C", "G", "T"], "range": ["#10cc10", "#0000ff", "#000000", "#ff0000"]}, "legend": null}}},
{"data": {"name": "tr"}, "transform": [{"filter": "datum.p === 'F'"}], "mark": {"type": "line", "interpolate": "monotone", "strokeWidth": 1.6},
 "encoding": {"x": {"field": "s", "type": "quantitative", "scale": {"domain": [0, 530], "nice": false}, "axis": null}, "y": {"field": "v", "type": "quantitative", "scale": {"domain": [-1, 258], "nice": false}, "axis": null}, "color": {"field": "c", "type": "nominal", "scale": {"domain": ["A", "C", "G", "T"], "range": ["#10cc10", "#0000ff", "#000000", "#ff0000"]}, "legend": null}, "detail": {"field": "g", "type": "nominal"}}},
{"data": {"name": "calls"}, "transform": [{"filter": "datum.p === 'F'"}], "mark": {"type": "text", "fontSize": 29, "align": "center", "baseline": "alphabetic"},
 "encoding": {"x": {"field": "s", "type": "quantitative", "scale": {"domain": [0, 530], "nice": false}, "axis": null}, "y": {"datum": 150, "type": "quantitative", "scale": {"domain": [-1, 258], "nice": false}}, "text": {"field": "b"}}},
{"data": {"values": [{}]}, "mark": {"type": "rule", "strokeWidth": 1.5, "color": "#000000"}, "encoding": {"x": {"datum": 282, "type": "quantitative"}, "x2": {"datum": 313}, "y": {"datum": 144, "type": "quantitative"}}},
{"data": {"values": [{}]}, "mark": {"type": "text", "fontSize": 26, "align": "center", "baseline": "alphabetic"}, "encoding": {"x": {"datum": 63, "type": "quantitative"}, "y": {"datum": 198, "type": "quantitative"}, "text": {"value": "(F)"}}},
{"data": {"values": [{}]}, "mark": {"type": "text", "fontSize": 26, "align": "center", "baseline": "alphabetic"}, "encoding": {"x": {"datum": 299, "type": "quantitative"}, "y": {"datum": 198, "type": "quantitative"}, "text": {"value": "-437 A/G"}}}
]}
], "spacing": 0}
]
}
